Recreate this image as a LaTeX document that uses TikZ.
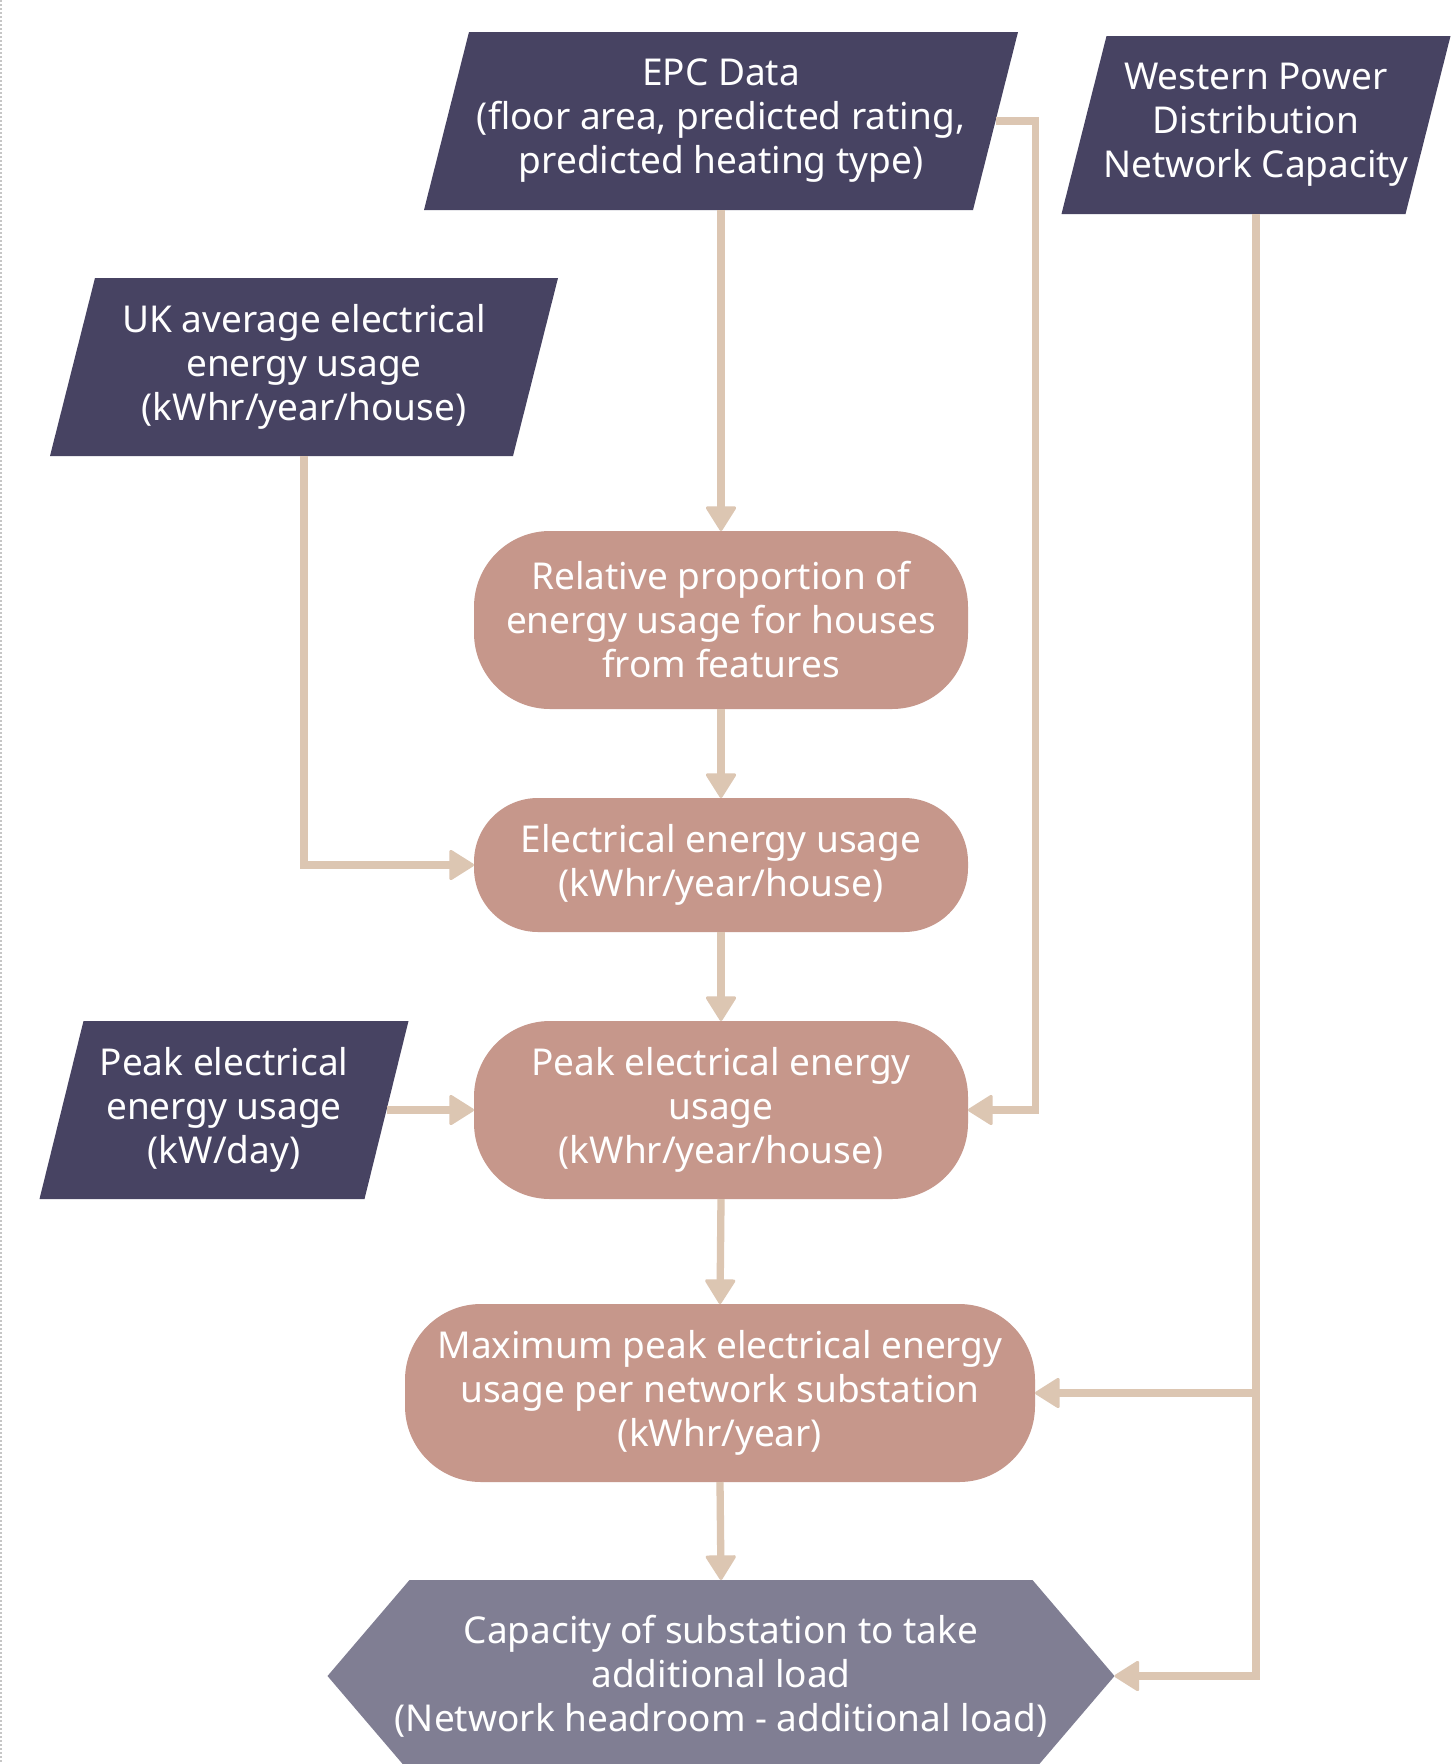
\documentclass[tikz,border=0pt]{standalone}
\usepackage{fontspec}
\setmainfont{Noto Sans}
\usetikzlibrary{arrows.meta,backgrounds,calc}
\definecolor{navy}{RGB}{71,67,98}
\definecolor{rose}{RGB}{198,151,139}
\definecolor{slate}{RGB}{128,126,147}
\definecolor{tan}{RGB}{220,198,178}
\tikzset{
  txt/.style={align=center, text=white, font=\fontsize{37}{44}\selectfont, inner sep=0pt, outer sep=0pt,
    execute at begin node={\rule{0pt}{47pt}}},
  parabox/.style={txt, minimum height=178pt},
  roundbox/.style={txt, fill=rose, rounded corners=76pt, minimum height=178pt, minimum width=494pt},
  conn/.style={draw=tan, line width=7.3pt, -{Triangle[width=32pt,length=26pt,line width=3pt,round]}},
}
\begin{document}
\begin{tikzpicture}[x=1pt,y=-1pt]
\useasboundingbox (0,0) rectangle (1451,1764);

% nodes
\node[parabox, minimum width=549pt] (epc) at (721,121) {EPC Data\\(floor area, predicted rating,\\predicted heating type)};
\node[parabox, minimum width=344pt] (wpd) at (1256,125) {Western Power\\Distribution\\Network Capacity};
\node[parabox, minimum width=463pt] (uk) at (304,367) {UK average electrical\\energy usage\\(kWhr/year/house)};
\node[parabox, minimum width=325pt] (pin) at (224,1110) {Peak electrical\\energy usage\\(kW/day)};
\node[roundbox] (rel) at (721,620) {Relative proportion of\\energy usage for houses\\from features};
\node[roundbox, minimum height=134pt, rounded corners=64pt] (elec) at (721,865) {Electrical energy usage\\(kWhr/year/house)};
\node[roundbox] (peak) at (721,1110) {Peak electrical energy\\usage\\(kWhr/year/house)};
\node[roundbox, minimum width=630pt] (max) at (720,1393) {Maximum peak electrical energy\\usage per network substation\\(kWhr/year)};
\node[txt, minimum width=787pt, minimum height=192pt] (hex) at (721,1676) {Capacity of substation to take\\additional load\\(Network headroom - additional load)};

% page, left rule and shapes behind the text
\begin{scope}[on background layer]
\fill[white] (0,0) rectangle (1451,1764);
\draw[gray!45, line width=1.2pt, dash pattern=on 2pt off 2pt] (1,0) -- (1,1764);
\foreach \n/\s in {epc/22.5, wpd/22.5, uk/22.5, pin/22}{
  \fill[navy] ($(\n.south west)+(-\s,0)$) -- ($(\n.north west)+(\s,0)$) -- ($(\n.north east)+(\s,0)$) -- ($(\n.south east)+(-\s,0)$) -- cycle;
}
\fill[slate] (hex.west) -- ($(hex.north west)+(82,0)$) -- ($(hex.north east)+(-82,0)$) -- (hex.east) -- ($(hex.south east)+(-82,0)$) -- ($(hex.south west)+(82,0)$) -- cycle;
\end{scope}

% connectors
\draw[conn] (epc.south) -- (rel.north);
\draw[conn] (rel.south) -- (elec.north);
\draw[conn] (elec.south) -- (peak.north);
\draw[conn] (peak.south) -- (max.north);
\draw[conn] (max.south) -- (hex.north);
\draw[conn] (uk.south) |- (elec.west);
\draw[conn] (pin.east) -- (peak.west);
\draw[conn] (epc.east) -- ++(40,0) |- (peak.east);
\draw[conn] (wpd.south) |- (hex.east);
\draw[conn] (wpd.south |- max.east) -- (max.east);
\end{tikzpicture}
\end{document}
